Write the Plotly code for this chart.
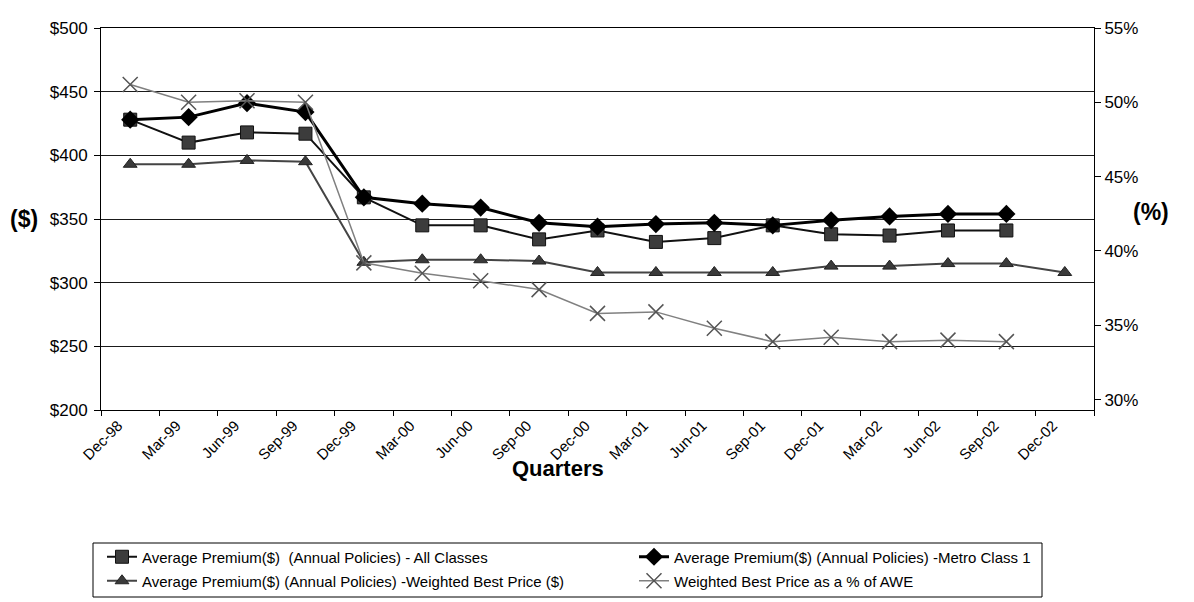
import plotly.graph_objects as go

quarters = ["Dec-98", "Mar-99", "Jun-99", "Sep-99", "Dec-99", "Mar-00", "Jun-00", "Sep-00",
            "Dec-00", "Mar-01", "Jun-01", "Sep-01", "Dec-01", "Mar-02", "Jun-02", "Sep-02", "Dec-02"]

all_classes = [428, 410, 418, 417, 367, 345, 345, 334, 341, 332, 335, 345, 338, 337, 341, 341, None]
metro_class1 = [428, 430, 441, 434, 367, 362, 359, 347, 344, 346, 347, 345, 349, 352, 354, 354, None]
weighted_best = [393, 393, 396, 395, 316, 318, 318, 317, 308, 308, 308, 308, 313, 313, 315, 315, 308]
pct_awe = [51.2, 50.0, 50.1, 50.0, 39.2, 38.5, 38.0, 37.4, 35.8, 35.9, 34.8, 33.9, 34.2, 33.9, 34.0, 33.9, None]

left_ticks = [200, 250, 300, 350, 400, 450, 500]
left_labels = ["$200", "$250", "$300", "$350", "$400", "$450", "$500"]
right_ticks = [30, 35, 40, 45, 50, 55]
right_labels = ["30%", "35%", "40%", "45%", "50%", "55%"]

FONT = "Liberation Sans, Arial, sans-serif"

# page has an 8px body margin; figure occupies page x 8..1194, y 8..602
FIG_W, FIG_H, OFF = 1186, 594, 8
# plot area in page pixels
PX0, PX1, PY0, PY1 = 101, 1094, 28, 410


def px(x):
    return (x - PX0) / (PX1 - PX0)


def py(y):
    return (PY1 - y) / (PY1 - PY0)


def cx(x):
    return (x - OFF) / FIG_W


def cy(y):
    return (FIG_H + OFF - y) / FIG_H


fig = go.Figure()

fig.add_trace(go.Scatter(
    x=quarters, y=all_classes, name="Average Premium($)  (Annual Policies) - All Classes",
    mode="lines+markers", line=dict(color="#111111", width=2),
    marker=dict(symbol="square", size=13, color="#3c3c3c", line=dict(color="#111111", width=1)),
    legend="legend",
))
fig.add_trace(go.Scatter(
    x=quarters, y=metro_class1, name="Average Premium($) (Annual Policies) -Metro Class 1",
    mode="lines+markers", line=dict(color="#000000", width=3),
    marker=dict(symbol="diamond", size=14, color="#000000"),
    legend="legend2",
))
fig.add_trace(go.Scatter(
    x=quarters, y=weighted_best, name="Average Premium($) (Annual Policies) -Weighted Best Price ($)",
    mode="lines+markers", line=dict(color="#444444", width=2),
    marker=dict(symbol="triangle-up", size=12, color="#3a3a3a", line=dict(color="#222222", width=1)),
    legend="legend3",
))
fig.add_trace(go.Scatter(
    x=quarters, y=pct_awe, name="Weighted Best Price as a % of AWE", yaxis="y2",
    mode="lines+markers", line=dict(color="#808080", width=1.5),
    marker=dict(symbol="x-thin-open", size=15, color="#555555", line=dict(color="#555555", width=1.5)),
    legend="legend4",
))

leg_common = dict(orientation="v", xanchor="left", yanchor="middle", borderwidth=0,
                  xref="container", yref="container",
                  bgcolor="rgba(0,0,0,0)", font=dict(size=15, family=FONT, color="#000000"))

fig.update_layout(
    width=FIG_W, height=FIG_H,
    margin=dict(l=PX0 - OFF, r=FIG_W + OFF - PX1, t=PY0 - OFF, b=FIG_H + OFF - PY1, autoexpand=False),
    paper_bgcolor="white", plot_bgcolor="white",
    font=dict(family=FONT, color="#000000"),
    showlegend=True,
    legend=dict(x=cx(102), y=cy(557), **leg_common),
    legend2=dict(x=cx(634), y=cy(557), **leg_common),
    legend3=dict(x=cx(102), y=cy(581), **leg_common),
    legend4=dict(x=cx(634), y=cy(581), **leg_common),
    xaxis=dict(
        type="category", tickangle=-45, tickson="boundaries",
        ticks="outside", ticklen=5, tickcolor="#000000",
        showline=True, linecolor="#000000", linewidth=1, mirror=True,
        showgrid=False, zeroline=False, automargin=False,
        tickfont=dict(size=15, family=FONT, color="#000000"),
        ticklabelshift=-12,
        range=[-0.5, 16.5],
    ),
    yaxis=dict(
        range=[200, 500], tickmode="array", tickvals=left_ticks, ticktext=left_labels,
        ticks="outside", ticklen=6, tickcolor="#000000",
        showline=True, linecolor="#000000", linewidth=1,
        showgrid=True, gridcolor="#1a1a1a", gridwidth=1, zeroline=False, automargin=False,
        tickfont=dict(size=17, family=FONT, color="#000000"),
        ticklabelstandoff=3,
    ),
    yaxis2=dict(
        overlaying="y", side="right", range=[29.3, 55],
        tickmode="array", tickvals=right_ticks, ticktext=right_labels,
        ticks="outside", ticklen=6, tickcolor="#000000",
        showline=True, linecolor="#000000", linewidth=1,
        showgrid=False, zeroline=False, automargin=False,
        tickfont=dict(size=17, family=FONT, color="#000000"),
    ),
    shapes=[
        dict(type="rect", xref="paper", yref="paper",
             x0=px(93), x1=px(1042), y0=py(543), y1=py(597),
             line=dict(color="#000000", width=1), fillcolor="rgba(0,0,0,0)", layer="above"),
    ],
    annotations=[
        dict(text="<b>($)</b>", xref="paper", yref="paper", x=px(24), y=py(219),
             xanchor="center", yanchor="middle",
             showarrow=False, font=dict(size=23, family=FONT, color="#000000")),
        dict(text="<b>(%)</b>", xref="paper", yref="paper", x=px(1151), y=py(212),
             xanchor="center", yanchor="middle",
             showarrow=False, font=dict(size=23, family=FONT, color="#000000")),
        dict(text="<b>Quarters</b>", xref="paper", yref="paper", x=px(558), y=py(468),
             xanchor="center", yanchor="middle",
             showarrow=False, font=dict(size=22, family=FONT, color="#000000")),
    ],
)

fig.write_html("out.html")
